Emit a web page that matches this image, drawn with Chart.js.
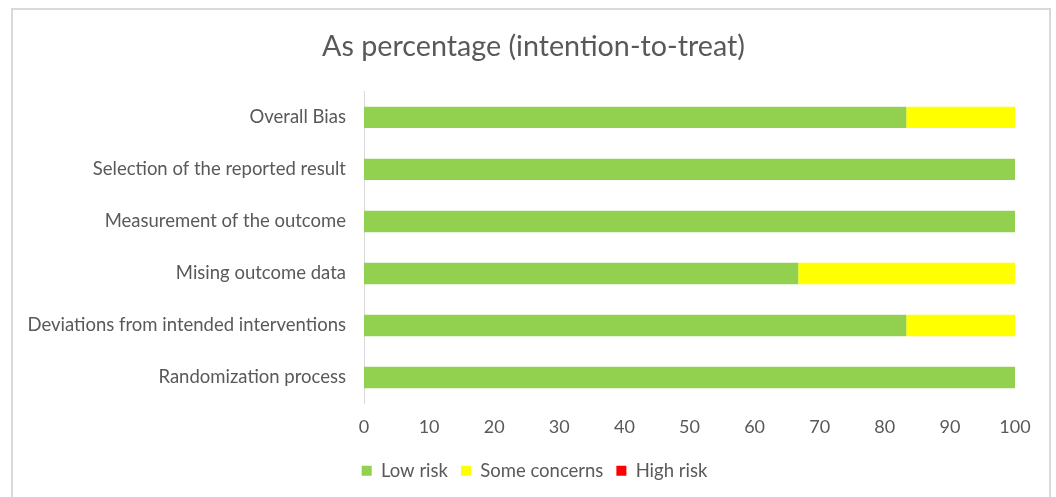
<!DOCTYPE html>
<html>
<head>
<meta charset="utf-8">
<script src="https://cdn.jsdelivr.net/npm/chart.js@4/dist/chart.umd.min.js"></script>
<style>
  html,body{margin:0;padding:0;background:#fff;}
  body{width:1056px;height:497px;position:relative;overflow:hidden;}
  .frame{position:absolute;left:11px;top:8px;width:1040px;height:520px;border:2px solid #d9d9d9;box-sizing:border-box;}
  #wrap{position:absolute;left:0;top:0;width:1056px;height:497px;}
</style>
</head>
<body>
<div class="frame"></div>
<div id="wrap"><canvas id="riskChart"></canvas></div>
<script>
const domains = ['Overall Bias','Selection of the reported result','Measurement of the outcome','Mising outcome data','Deviations from intended interventions','Randomization process'];
const lowRisk = [83.3, 100, 100, 66.7, 83.3, 100];
const someConcerns = [16.7, 0, 0, 33.3, 16.7, 0];
const highRisk = [0, 0, 0, 0, 0, 0];
const xTicks = [0,10,20,30,40,50,60,70,80,90,100];

const textCol = '#595959';
const fontFam = 'Lato, "Open Sans", sans-serif';

// title and legend sit centred on the frame, not on the canvas minus right padding
const recentre = {
  id:'recentre',
  afterLayout(chart){
    const t = chart.titleBlock;
    if(t){ t.left += 26; t.right += 26; }
    const l = chart.legend;
    if(l){ l.left += 27; l.right += 27; }
  }
};

const ctx = document.getElementById('riskChart').getContext('2d');
new Chart(ctx, {
  type:'bar',
  data:{
    labels: domains,
    datasets:[
      {label:'Low risk', data:lowRisk, backgroundColor:'#92d050', barPercentage:0.41, categoryPercentage:1},
      {label:'Some concerns', data:someConcerns, backgroundColor:'#ffff00', barPercentage:0.41, categoryPercentage:1},
      {label:'High risk', data:highRisk, backgroundColor:'#ff0000', barPercentage:0.41, categoryPercentage:1}
    ]
  },
  options:{
    indexAxis:'y',
    responsive:true, maintainAspectRatio:false,
    animation:false,
    layout:{padding:{left:0, right:41, top:0, bottom:7}},
    scales:{
      x:{
        stacked:true, min:0, max:100,
        afterBuildTicks: s => { s.ticks = xTicks.map(v=>({value:v})); },
        grid:{display:false}, border:{display:false},
        ticks:{color:textCol, font:{family:fontFam, size:18}, padding:5, maxRotation:0},
        afterFit: s => { s.height = 45; }
      },
      y:{
        stacked:true,
        grid:{display:false},
        border:{display:true, color:'#d9d9d9', width:1},
        ticks:{color:textCol, font:{family:fontFam, size:18.5}, padding:10},
        afterFit: s => { s.width = 364; }
      }
    },
    plugins:{
      title:{display:true, text:'As percentage (intention-to-treat)', color:textCol,
        font:{family:fontFam, size:28.7, weight:'normal'}, padding:{top:30, bottom:27}},
      legend:{position:'bottom', labels:{color:textCol, font:{family:fontFam, size:18.5}, boxWidth:10, boxHeight:10, padding:13}},
      tooltip:{enabled:false}
    }
  },
  plugins:[recentre]
});
</script>
</body>
</html>
